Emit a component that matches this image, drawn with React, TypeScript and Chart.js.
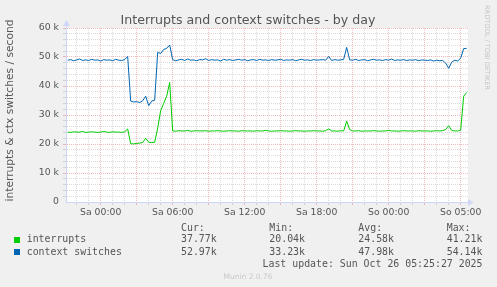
import React, { useEffect, useRef } from "react";
import { Chart, registerables } from "chart.js";

Chart.register(...registerables);

// Time axis: hours since Sa 00:00 (real time), one sample every 15 minutes
const START_HOUR = -2.75;
const STEP_HOURS = 0.25;

// interrupts (k / second)
const interrupts = [
  24.1, 24.0, 24.2, 24.1, 24.1, 24.3, 24.0, 24.1, 24.2, 24.1,
  24.0, 24.1, 24.3, 24.1, 24.0, 24.2, 24.1, 24.1, 24.0, 24.2,
  25.2,
  20.1, 20.04, 20.2, 20.3, 20.5, 22.0, 20.6, 20.5, 20.6,
  25.5, 31.5, 34.0, 36.5, 41.21,
  24.5, 24.4, 24.6, 24.5, 24.5, 24.7, 24.4, 24.5, 24.6, 24.5,
  24.5, 24.6, 24.4, 24.5, 24.5, 24.6, 24.5, 24.4, 24.5, 24.6,
  24.5, 24.5, 24.4, 24.6, 24.5, 24.5, 24.5, 24.4, 24.6, 24.5,
  24.5, 24.7, 24.5, 24.4, 24.5, 24.5, 24.6, 24.5, 24.5, 24.4,
  24.5, 24.6, 24.5, 24.5, 24.4, 24.5, 24.5, 24.6, 24.5, 24.5,
  24.4, 24.6,
  25.2,
  24.5, 24.5, 24.4, 24.6, 24.5,
  27.9,
  25.0, 24.5, 24.5, 24.6, 24.4, 24.5, 24.5, 24.5, 24.6, 24.5,
  24.4, 24.5, 24.5, 24.7, 24.5, 24.5, 24.4, 24.5, 24.6, 24.5,
  24.5, 24.5, 24.4, 24.6, 24.5, 24.5, 24.5, 24.4, 24.5, 24.6, 24.5, 24.6,
  25.0, 26.3, 24.7, 24.5, 24.5, 24.8, 36.5, 37.77,
];

// context switches (k / second)
const contextSwitches = [
  48.9, 49.1, 48.7, 49.0, 49.3, 48.8, 49.0, 48.8, 49.2, 48.9,
  49.0, 48.6, 49.1, 48.9, 49.0, 48.7, 49.2, 48.9, 48.8, 49.1,
  50.2,
  34.8, 34.5, 34.6, 34.3, 34.9, 36.5, 33.23, 34.8, 35.1,
  51.6, 51.2, 52.6, 53.0, 54.14,
  49.1, 48.7, 49.0, 49.2, 48.8, 49.3, 48.9, 49.0, 48.7, 49.1,
  49.0, 49.4, 48.8, 49.1, 48.9, 49.0, 48.6, 49.2, 48.9, 49.1,
  48.8, 49.0, 49.2, 48.9, 49.1, 48.7, 49.0, 49.1, 48.8, 49.2,
  48.9, 49.0, 48.8, 49.1, 48.9, 49.0, 49.2, 48.8, 49.0, 48.9,
  49.1, 48.7, 49.0, 49.2, 48.9, 49.0, 48.8, 49.1, 48.9, 49.0,
  49.1, 48.9,
  50.2,
  48.8, 49.1, 48.9, 49.0, 49.2,
  53.3,
  49.0, 48.9, 49.2, 48.8, 49.0, 49.1, 48.7, 49.0, 49.2, 48.9,
  49.0, 48.8, 49.1, 48.9, 49.3, 48.8, 49.0, 48.9, 49.1, 48.8,
  49.0, 48.9, 49.1, 48.7, 49.0, 48.9, 48.8, 49.0, 48.6, 48.9, 48.7, 48.8,
  47.9, 46.1, 48.2, 48.9, 48.6, 49.6, 52.9, 52.97,
];

const xTickHours = [0, 6, 12, 18, 24, 30];
const xTickLabels = ["Sa 00:00", "Sa 06:00", "Sa 12:00", "Sa 18:00", "So 00:00", "So 05:00"];
const X_MIN = -2.89;
const X_MAX = 30.61;

const yTickValues = [0, 10000, 20000, 30000, 40000, 50000, 60000];
const yTickLabels = ["0", "10 k", "20 k", "30 k", "40 k", "50 k", "60 k"];

const seriesNames = ["interrupts", "context switches"];
const seriesColors = ["#00CC00", "#0066B3"];
const curValues = ["37.77k", "52.97k"];
const minValues = ["20.04k", "33.23k"];
const avgValues = ["24.58k", "47.98k"];
const maxValues = ["41.21k", "54.14k"];

const TITLE = "Interrupts and context switches - by day";
const Y_TITLE = "interrupts & ctx switches / second";
const LAST_UPDATE = "Last update: Sun Oct 26 05:25:27 2025";
const WATERMARK = "RRDTOOL / TOBI OETIKER";
const VERSION = "Munin 2.0.76";

const MGRID = "rgba(222,79,79,0.38)";
const GRID = "rgba(143,143,143,0.32)";
const AXIS = "#CFD6F8";
const FONT_COLOR = "#555555";
const SANS = '"DejaVu Sans"';
const MONO = '"DejaVu Sans Mono"';

const extrasPlugin = {
  id: "muninExtras",
  beforeDraw(chart: any) {
    const { ctx, chartArea: a } = chart;
    ctx.save();
    ctx.fillStyle = "#F0F0F0";
    ctx.fillRect(0, 0, chart.width, chart.height);
    ctx.fillStyle = "#FFFFFF";
    ctx.fillRect(a.left, a.top, a.right - a.left, a.bottom - a.top);
    ctx.restore();
  },
  afterDraw(chart: any) {
    const { ctx, chartArea: a } = chart;
    ctx.save();
    // axis arrows
    ctx.strokeStyle = AXIS;
    ctx.fillStyle = AXIS;
    ctx.lineWidth = 1;
    ctx.beginPath();
    ctx.moveTo(a.left + 0.5, a.top);
    ctx.lineTo(a.left + 0.5, a.top - 4);
    ctx.moveTo(a.right, a.bottom + 0.5);
    ctx.lineTo(a.right + 3, a.bottom + 0.5);
    ctx.stroke();
    ctx.beginPath();
    ctx.moveTo(a.left + 0.5, a.top - 8);
    ctx.lineTo(a.left - 3, a.top - 2);
    ctx.lineTo(a.left + 4, a.top - 2);
    ctx.closePath();
    ctx.fill();
    ctx.beginPath();
    ctx.moveTo(a.right + 5.5, a.bottom + 0.5);
    ctx.lineTo(a.right, a.bottom - 3);
    ctx.lineTo(a.right, a.bottom + 4);
    ctx.closePath();
    ctx.fill();

    // title
    ctx.fillStyle = FONT_COLOR;
    ctx.font = `12.6px ${SANS}`;
    ctx.textAlign = "center";
    ctx.textBaseline = "alphabetic";
    ctx.fillText(TITLE, 248, 23.5);

    // y title
    ctx.save();
    ctx.translate(10, 110.5);
    ctx.rotate(-Math.PI / 2);
    ctx.font = `10.7px ${SANS}`;
    ctx.textAlign = "center";
    ctx.textBaseline = "middle";
    ctx.fillText(Y_TITLE, 0, 0);
    ctx.restore();

    // watermark
    ctx.save();
    ctx.translate(487, 5);
    ctx.rotate(Math.PI / 2);
    ctx.font = `6.6px ${SANS}`;
    ctx.fillStyle = "#C4C4C4";
    ctx.textAlign = "left";
    ctx.textBaseline = "middle";
    ctx.fillText(WATERMARK, 0, 0);
    ctx.restore();

    // legend
    ctx.font = `9.9px ${MONO}`;
    ctx.fillStyle = FONT_COLOR;
    ctx.textAlign = "left";
    ctx.textBaseline = "middle";
    const cols = [181, 269.3, 358.3, 446.7];
    const heads = ["Cur:", "Min:", "Avg:", "Max:"];
    heads.forEach((h, i) => ctx.fillText(h, cols[i], 228.3));
    const rowsY = [239.8, 252.1];
    seriesNames.forEach((name, i) => {
      const y = rowsY[i];
      ctx.fillStyle = seriesColors[i];
      ctx.fillRect(14, Math.round(y - 3), 6, 6);
      ctx.fillStyle = FONT_COLOR;
      ctx.fillText(name, 26.7, y);
      ctx.fillText(curValues[i], cols[0], y);
      ctx.fillText(minValues[i], cols[1], y);
      ctx.fillText(avgValues[i], cols[2], y);
      ctx.fillText(maxValues[i], cols[3], y);
    });
    ctx.textAlign = "right";
    ctx.fillText(LAST_UPDATE, 482.5, 264.3);

    ctx.font = `7.5px ${SANS}`;
    ctx.fillStyle = "#C8C8C8";
    ctx.textAlign = "center";
    ctx.fillText(VERSION, 248, 276.8);
    ctx.restore();
  },
};

export default function App() {
  const ref = useRef<HTMLCanvasElement | null>(null);

  useEffect(() => {
    if (!ref.current) return;
    const times = interrupts.map((_, i) => START_HOUR + i * STEP_HOURS);
    const chart = new Chart(ref.current, {
      type: "line",
      data: {
        datasets: [
          {
            label: seriesNames[0],
            data: times.map((t, i) => ({ x: t, y: interrupts[i] * 1000 })),
            borderColor: seriesColors[0],
            borderWidth: 1,
            pointRadius: 0,
            tension: 0,
            fill: false,
          },
          {
            label: seriesNames[1],
            data: times.map((t, i) => ({ x: t, y: contextSwitches[i] * 1000 })),
            borderColor: seriesColors[1],
            borderWidth: 1,
            pointRadius: 0,
            tension: 0,
            fill: false,
          },
        ],
      },
      options: {
        animation: false,
        responsive: false,
        devicePixelRatio: 1,
        layout: { padding: { top: 28, right: 29, bottom: 0, left: 0 } },
        plugins: { legend: { display: false }, tooltip: { enabled: false }, title: { display: false } },
        scales: {
          x: {
            type: "linear",
            min: X_MIN,
            max: X_MAX,
            afterBuildTicks(scale: any) {
              const ticks = [];
              for (let h = Math.ceil(X_MIN); h <= Math.floor(X_MAX); h++) ticks.push({ value: h });
              scale.ticks = ticks;
            },
            afterFit(scale: any) {
              scale.height = 85;
            },
            ticks: {
              autoSkip: false,
              maxRotation: 0,
              minRotation: 0,
              padding: 2,
              color: FONT_COLOR,
              font: { family: "DejaVu Sans", size: 9.3 },
              callback: (v: any) => {
                const k = xTickHours.indexOf(Number(v));
                return k >= 0 ? xTickLabels[k] : "";
              },
            },
            grid: {
              color: (c: any) => (c.tick && c.tick.value % 3 === 0 ? MGRID : GRID),
              lineWidth: 1,
              drawTicks: true,
              tickLength: 3,
            },
            border: { display: true, color: AXIS, width: 1, dash: [1, 1] },
          },
          y: {
            type: "linear",
            min: 0,
            max: 60000,
            afterBuildTicks(scale: any) {
              const ticks = [];
              for (let v = 0; v <= 60000; v += 2000) ticks.push({ value: v });
              scale.ticks = ticks;
            },
            afterFit(scale: any) {
              scale.width = 66;
            },
            ticks: {
              autoSkip: false,
              padding: 4,
              color: FONT_COLOR,
              font: { family: "DejaVu Sans", size: 9.3 },
              callback: (v: any) => {
                const k = yTickValues.indexOf(Number(v));
                return k >= 0 ? yTickLabels[k] : "";
              },
            },
            grid: {
              color: (c: any) =>
                c.tick && c.tick.value === 0 ? "rgba(0,0,0,0)" : c.tick && c.tick.value % 10000 === 0 ? MGRID : GRID,
              lineWidth: 1,
              drawTicks: true,
              tickLength: 3,
            },
            border: { display: true, color: AXIS, width: 1, dash: [1, 1] },
          },
        },
      },
      plugins: [extrasPlugin],
    } as any);
    return () => chart.destroy();
  }, []);

  return (
    <div style={{ position: "fixed", left: 0, top: 0, width: 497, height: 287, background: "#F0F0F0" }}>
      <canvas ref={ref} width={497} height={287} style={{ display: "block" }} />
    </div>
  );
}
